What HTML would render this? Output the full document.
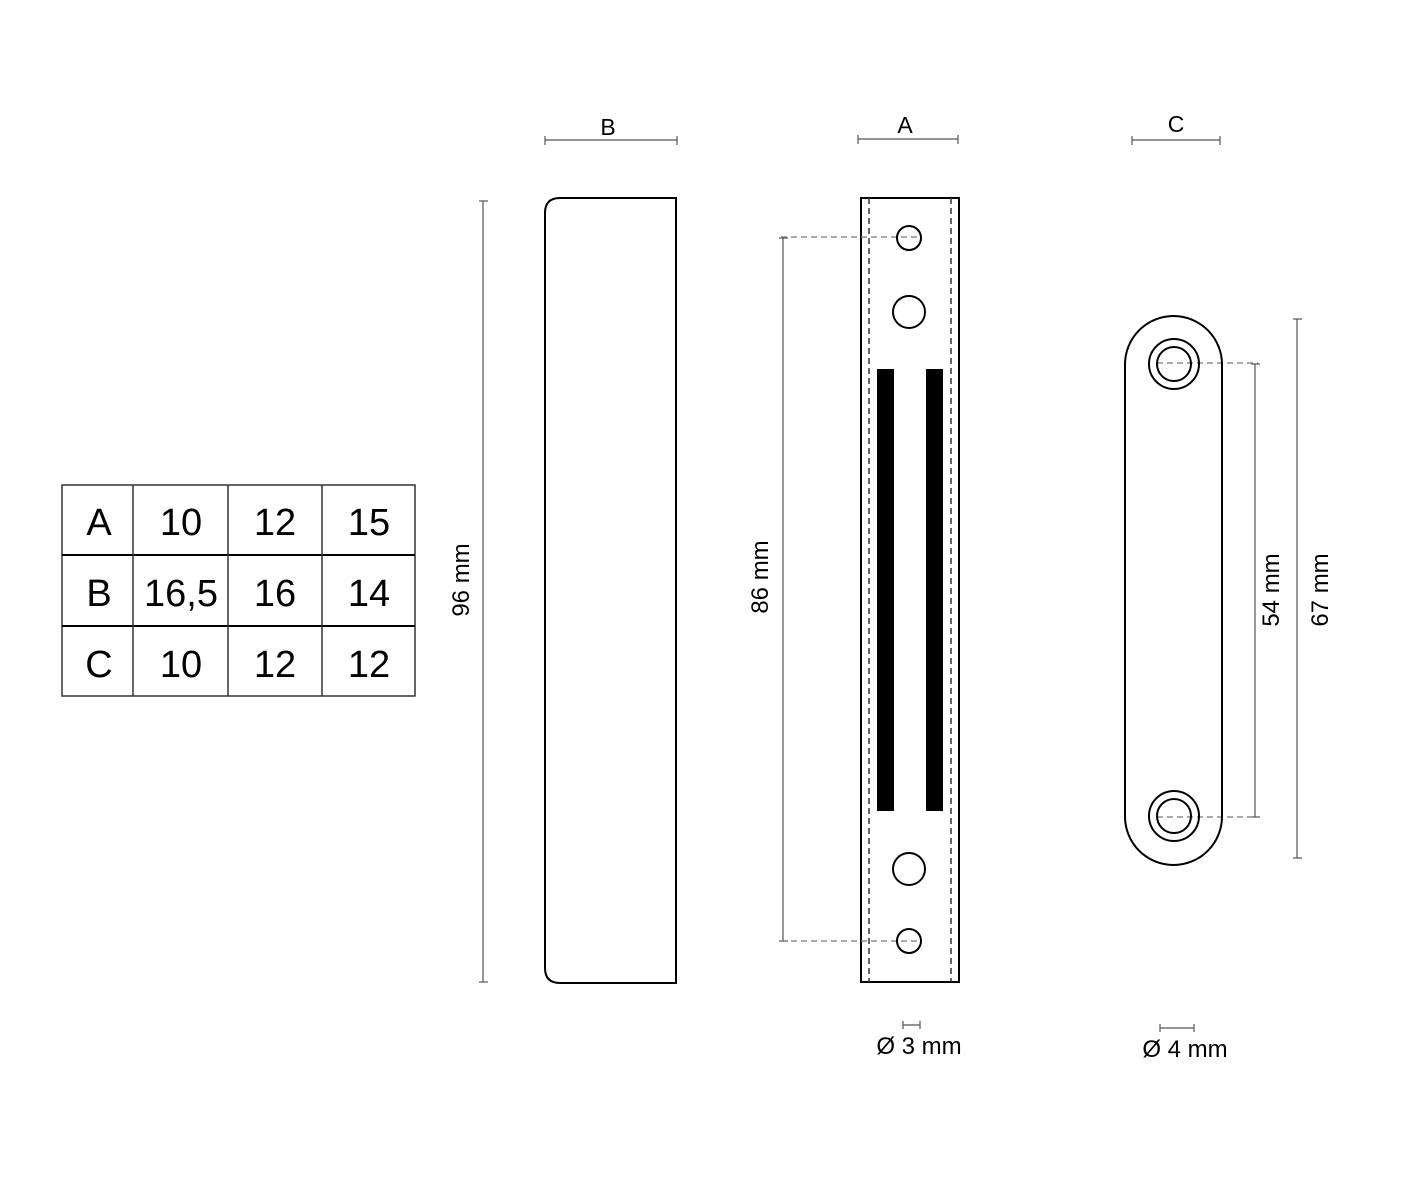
<!DOCTYPE html>
<html><head><meta charset="utf-8"><style>
html,body{margin:0;padding:0;background:#fff;}
svg{display:block;}
text{font-family:"Liberation Sans",sans-serif;fill:#000;}
</style></head><body>
<svg width="1417" height="1181" viewBox="0 0 1417 1181" xmlns="http://www.w3.org/2000/svg">
<rect width="1417" height="1181" fill="#fff"/>
<g stroke="#333" stroke-width="1.5" fill="none">
<rect x="62" y="485" width="353" height="211"/>
<line x1="62" y1="555" x2="415" y2="555" stroke="#000" stroke-width="2"/>
<line x1="62" y1="626" x2="415" y2="626" stroke="#000" stroke-width="2"/>
<line x1="133" y1="485" x2="133" y2="696"/>
<line x1="228" y1="485" x2="228" y2="696"/>
<line x1="322" y1="485" x2="322" y2="696"/>
</g>
<g font-size="38" text-anchor="middle">
<text x="99" y="535">A</text><text x="181" y="535">10</text><text x="275" y="535">12</text><text x="369" y="535">15</text>
<text x="99" y="606">B</text><text x="181" y="606">16,5</text><text x="275" y="606">16</text><text x="369" y="606">14</text>
<text x="99" y="677">C</text><text x="181" y="677">10</text><text x="275" y="677">12</text><text x="369" y="677">12</text>
</g>
<g stroke="#555" stroke-width="1.2" fill="none">
<line x1="545" y1="140" x2="677" y2="140"/><line x1="545" y1="136" x2="545" y2="145"/><line x1="677" y1="136" x2="677" y2="145"/>
<line x1="858" y1="139" x2="958" y2="139"/><line x1="858" y1="135" x2="858" y2="144"/><line x1="958" y1="135" x2="958" y2="144"/>
<line x1="1132" y1="140" x2="1220" y2="140"/><line x1="1132" y1="136" x2="1132" y2="145"/><line x1="1220" y1="136" x2="1220" y2="145"/>
<line x1="483" y1="201" x2="483" y2="982"/><line x1="479" y1="201" x2="488" y2="201"/><line x1="479" y1="982" x2="488" y2="982"/>
<line x1="783" y1="238" x2="783" y2="941"/><line x1="779" y1="238" x2="788" y2="238"/><line x1="779" y1="941" x2="788" y2="941"/>
<line x1="1255" y1="364" x2="1255" y2="817"/><line x1="1251" y1="364" x2="1260" y2="364"/><line x1="1251" y1="817" x2="1260" y2="817"/>
<line x1="1297" y1="319" x2="1297" y2="858"/><line x1="1293" y1="319" x2="1302" y2="319"/><line x1="1293" y1="858" x2="1302" y2="858"/>
<line x1="903" y1="1025" x2="920" y2="1025"/><line x1="903" y1="1021" x2="903" y2="1029"/><line x1="920" y1="1021" x2="920" y2="1029"/>
<line x1="1160" y1="1028" x2="1194" y2="1028"/><line x1="1160" y1="1024" x2="1160" y2="1032"/><line x1="1194" y1="1024" x2="1194" y2="1032"/>
</g>
<g font-size="23" text-anchor="middle">
<text x="608" y="135">B</text><text x="905" y="133">A</text><text x="1176" y="132">C</text>
</g>
<g font-size="24" text-anchor="middle">
<text transform="translate(469,580) rotate(-90)">96 mm</text>
<text transform="translate(768,577) rotate(-90)">86 mm</text>
<text transform="translate(1279,590) rotate(-90)">54 mm</text>
<text transform="translate(1328,590) rotate(-90)">67 mm</text>
<text x="919" y="1054">Ø 3 mm</text>
<text x="1185" y="1057">Ø 4 mm</text>
</g>
<path d="M560 198 H676 V983 H560 Q545 983 545 968 V213 Q545 198 560 198 Z" fill="none" stroke="#000" stroke-width="2"/>
<rect x="861" y="198" width="98" height="784" fill="none" stroke="#000" stroke-width="2"/>
<g stroke="#333" stroke-width="1.5" stroke-dasharray="6,4" fill="none">
<line x1="869" y1="198" x2="869" y2="982"/><line x1="951" y1="198" x2="951" y2="982"/>
</g>
<g stroke="#777" stroke-width="1.2" stroke-dasharray="6,4">
<line x1="781" y1="237" x2="921" y2="237"/><line x1="781" y1="941" x2="921" y2="941"/>
<line x1="1157" y1="363" x2="1258" y2="363"/><line x1="1157" y1="817" x2="1258" y2="817"/>
</g>
<g fill="none" stroke="#000" stroke-width="2">
<circle cx="909" cy="238" r="12"/><circle cx="909" cy="312" r="16"/>
<circle cx="909" cy="869" r="16"/><circle cx="909" cy="941" r="12"/>
</g>
<rect x="877" y="369" width="17" height="442" fill="#000"/>
<rect x="926" y="369" width="17" height="442" fill="#000"/>
<g fill="none" stroke="#000" stroke-width="2">
<rect x="1125" y="316" width="97" height="549" rx="48.5" ry="48.5"/>
<circle cx="1174" cy="364" r="25"/><circle cx="1174" cy="364" r="17"/>
<circle cx="1174" cy="816" r="25"/><circle cx="1174" cy="816" r="17"/>
</g>
</svg>
</body></html>
